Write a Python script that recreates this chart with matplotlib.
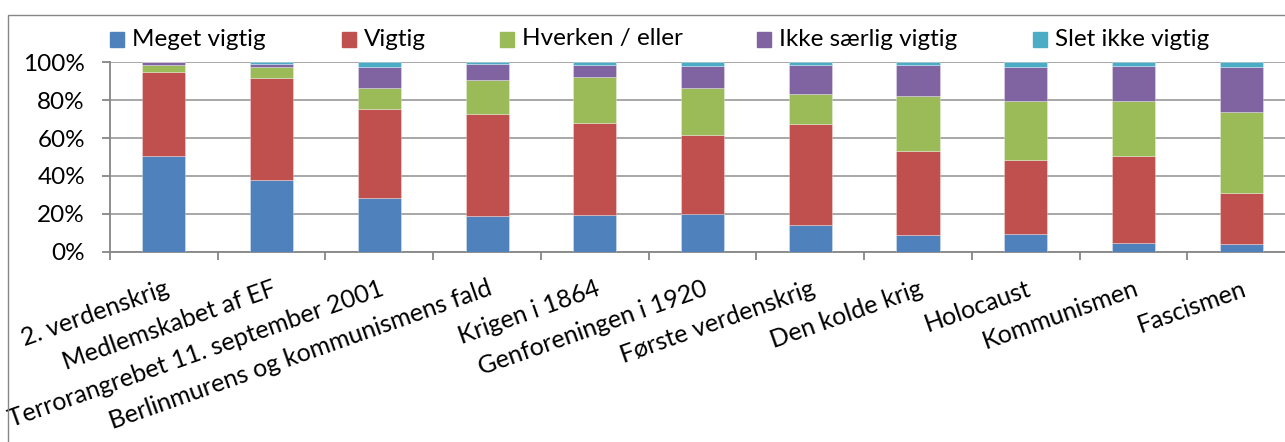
import matplotlib
matplotlib.use("Agg")
import matplotlib.pyplot as plt
from matplotlib.patches import Rectangle
import numpy as np

categories = ["2. verdenskrig", "Medlemskabet af EF", "Terrorangrebet 11. september 2001",
              "Berlinmurens og kommunismens fald", "Krigen i 1864", "Genforeningen i 1920",
              "Første verdenskrig", "Den kolde krig", "Holocaust", "Kommunismen", "Fascismen"]
series_names = ["Meget vigtig", "Vigtig", "Hverken / eller", "Ikke særlig vigtig", "Slet ikke vigtig"]
meget_vigtig = [50.5, 37.9, 28.2, 19.0, 19.5, 19.9, 13.9, 8.6, 9.3, 4.4, 3.9]
vigtig = [44.2, 53.6, 47.0, 53.5, 48.6, 41.7, 53.4, 44.7, 39.3, 46.3, 27.3]
hverken_eller = [3.9, 5.9, 11.4, 18.0, 24.0, 24.7, 15.8, 29.1, 30.8, 28.7, 42.6]
ikke_saerlig = [1.4, 1.7, 11.1, 8.8, 6.7, 11.9, 15.5, 16.0, 18.3, 18.7, 23.6]
slet_ikke = [0.0, 0.9, 2.3, 0.7, 1.2, 1.8, 1.4, 1.6, 2.3, 1.9, 2.6]
y_ticks = [0, 20, 40, 60, 80, 100]
y_labels = ["0%", "20%", "40%", "60%", "80%", "100%"]

colors = ["#4F81BD", "#C0504D", "#9BBB59", "#8064A2", "#4BACC6"]
series = [meget_vigtig, vigtig, hverken_eller, ikke_saerlig, slet_ikke]

plt.rcParams['font.family'] = ['Lato', 'DejaVu Sans']
FS = 17.5
W, H = 1285, 442
fig = plt.figure(figsize=(W / 100, H / 100), dpi=100)

# outer chart border
border = Rectangle((8 / W, 1 - 15 / H), 2, -2, transform=fig.transFigure,
                   fill=False, edgecolor="#868686", linewidth=1.0, clip_on=False)
fig.patches.append(border)

ax = fig.add_axes([110 / W, 1 - 251.7 / H, (1295 - 110) / W, (251.7 - 62.3) / H])
x = np.arange(len(categories))
bottom = np.zeros(len(categories))
for name, vals, c in zip(series_names, series, colors):
    v = np.array(vals)
    ax.bar(x, v, 0.4, bottom=bottom, color=c, label=name, zorder=3,
           edgecolor=(1, 1, 1, 0.35), linewidth=0.6)
    bottom += v

ax.set_xlim(-0.5, len(categories) - 0.5)
ax.set_ylim(0, 100)
ax.set_yticks(y_ticks)
ax.set_yticklabels(y_labels, fontsize=FS)
ax.yaxis.grid(True, color="#A0A0A0", linewidth=1.3, zorder=0)
ax.set_axisbelow(True)
for s in ["top", "right"]:
    ax.spines[s].set_visible(False)
for s in ["left", "bottom"]:
    ax.spines[s].set_color("#868686")
    ax.spines[s].set_linewidth(1.3)
ax.tick_params(axis="y", length=6, width=1.3, color="#868686", pad=12)
ax.set_xticks(x)
ax.set_xticklabels(categories, fontsize=18, rotation=19.5, ha="right",
                   rotation_mode="anchor")
ax.tick_params(axis="x", which="major", length=0, pad=18)
ax.set_xticks(np.arange(-0.5, len(categories)), minor=True)
ax.tick_params(axis="x", which="minor", length=6, width=1.3, color="#868686")

# legend
leg_x = [110, 342, 500, 757, 1033]
for lx, name, c in zip(leg_x, series_names, colors):
    fig.patches.append(Rectangle((lx / W, 1 - 47 / H), 14 / W, 15 / H,
                                 transform=fig.transFigure, color=c))
    fig.text((lx + 22) / W, 1 - 39 / H, name, fontsize=FS, va="center", ha="left")

fig.savefig("out.png", dpi=100)
